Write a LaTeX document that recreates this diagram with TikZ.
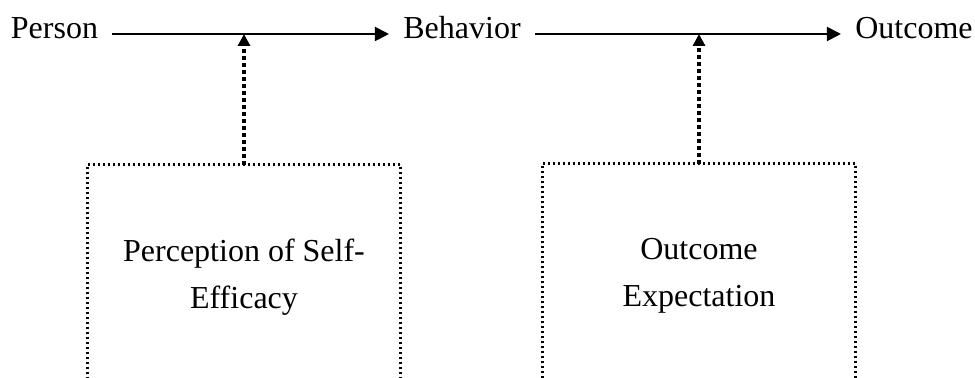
\documentclass[tikz,border=0pt]{standalone}
\usepackage{fontspec}
\setmainfont{Liberation Serif}
\usepackage{tikz}
\usetikzlibrary{arrows.meta,positioning}

\begin{document}
\begin{tikzpicture}[
  x=0.5pt,y=-0.5pt,
  term/.style={font=\fontsize{16}{23.5}\selectfont,anchor=base,inner xsep=7pt,
               inner ysep=0pt,text height=8pt,text depth=3pt},
  factor/.style={font=\fontsize{16}{23.5}\selectfont,align=center,
                 minimum width=156pt,minimum height=112pt,inner sep=0pt},
  arr/.style={-{Triangle[length=7pt,width=7pt]},line width=1pt},
  infl/.style={-{Triangle[length=6pt,width=6pt]},line width=1.6pt,dash pattern=on 1.6pt off 1.9pt},
  dotbox/.style={line width=1.2pt,dash pattern=on 1.2pt off 1.3pt}
]
\useasboundingbox (0,0) rectangle (975,378);

\node[term] (person) at (54.5,39) {Person};
\node[term] (behav)  at (462,39)  {Behavior};
\node[term] (outc)   at (914,39)  {Outcome};

\draw[arr] (person.east) -- (behav.west);
\draw[arr] (behav.east) -- (outc.west);

% factors below the arrows
\node[factor] (eff) at (244,277) {Perception of Self-\\Efficacy};
\node[factor] (expt) at (699,276) {Outcome\\Expectation};

\draw[dotbox] (eff.south west) -- (eff.north west) -- (eff.north east) -- (eff.south east);
\draw[dotbox] (expt.south west) -- (expt.north west) -- (expt.north east) -- (expt.south east);

\draw[infl] (eff.north) -- (eff.north |- person.east);
\draw[infl] (expt.north) -- (expt.north |- behav.east);
\end{tikzpicture}
\end{document}
